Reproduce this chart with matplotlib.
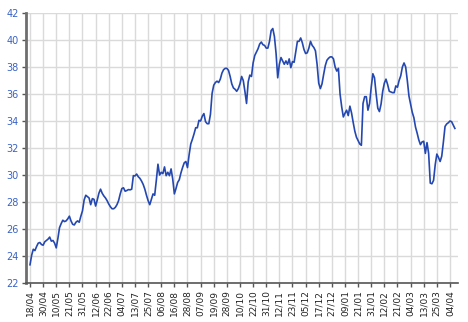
import matplotlib
matplotlib.use("Agg")
import matplotlib.pyplot as plt

# Tick labels (every 8th trading day)
tick_labels = ["18/04", "30/04", "10/05", "21/05", "31/05", "12/06", "22/06", "04/07",
               "13/07", "25/07", "06/08", "16/08", "28/08", "07/09", "19/09", "28/09",
               "10/10", "22/10", "31/10", "12/11", "23/11", "05/12", "17/12", "27/12",
               "09/01", "21/01", "31/01", "12/02", "21/02", "04/03", "13/03", "25/03",
               "04/04"]
tick_step = 8

# Daily values (trading days)
values = [
    23.35, 24.05, 24.5, 24.4, 24.7, 24.95, 25.0, 24.85, 24.8, 25.05,
    25.15, 25.25, 25.4, 25.1, 25.15, 24.95, 24.6, 25.3, 26.1, 26.4,
    26.65, 26.55, 26.6, 26.75, 26.95, 26.6, 26.35, 26.3, 26.5, 26.6,
    26.5, 26.95, 27.35, 28.15, 28.5, 28.4, 28.3, 27.8, 28.25, 28.2,
    27.7, 28.15, 28.65, 28.95, 28.65, 28.45, 28.3, 28.1, 27.85, 27.65,
    27.5, 27.5, 27.6, 27.8, 28.1, 28.6, 29.0, 29.05, 28.8, 28.85,
    28.92, 28.9, 28.95, 29.95, 29.93, 30.07, 29.87, 29.75, 29.55, 29.3,
    28.95, 28.5, 28.1, 27.8, 28.2, 28.6, 28.5, 29.6, 30.8, 30.0,
    30.2, 30.1, 30.6, 29.95, 30.2, 29.95, 30.45, 29.7, 28.6, 29.0,
    29.45, 29.65, 30.15, 30.55, 30.9, 31.0, 30.55, 31.5, 32.3, 32.65,
    33.05, 33.5, 33.5, 34.05, 34.0, 34.35, 34.55, 33.95, 33.8, 33.8,
    34.5, 36.05, 36.65, 36.85, 36.95, 36.85, 37.1, 37.55, 37.8, 37.9,
    37.9, 37.75, 37.3, 36.75, 36.45, 36.35, 36.2, 36.4, 36.75, 37.3,
    37.0, 36.2, 35.3, 36.9, 37.4, 37.3, 38.3, 38.85, 39.1, 39.35,
    39.7, 39.85, 39.65, 39.6, 39.4, 39.4, 39.9, 40.7, 40.85, 40.25,
    39.0, 37.2, 38.2, 38.7, 38.45, 38.2, 38.45, 38.2, 38.6, 37.95,
    38.4, 38.35, 39.1, 39.9, 39.9, 40.15, 39.8, 39.3, 39.0, 39.05,
    39.4, 39.9, 39.6, 39.45, 39.2, 38.2, 36.8, 36.4, 36.75, 37.45,
    38.1, 38.5, 38.65, 38.75, 38.75, 38.6, 38.0, 37.7, 37.9, 36.0,
    35.05, 34.3, 34.57, 34.8, 34.4, 35.1, 34.6, 33.9, 33.25, 32.8,
    32.55, 32.3, 32.2, 35.3, 35.8, 35.8, 34.8, 35.3, 36.5, 37.5,
    37.2, 36.0, 34.95, 34.7, 35.25, 36.2, 36.8, 37.1, 36.7, 36.2,
    36.15, 36.1, 36.1, 36.6, 36.5, 37.0, 37.35, 38.0, 38.3, 38.0,
    37.0, 35.85, 35.25, 34.65, 34.25, 33.55, 33.1, 32.6, 32.25, 32.45,
    32.5, 31.6, 32.4, 31.6, 29.4, 29.35, 29.6, 30.75, 31.55, 31.3,
    31.0, 31.4, 32.45, 33.6, 33.78, 33.87, 34.0, 33.95, 33.7, 33.45,
]
y_ticks = [22, 24, 26, 28, 30, 32, 34, 36, 38, 40, 42]

fig = plt.figure(figsize=(4.68, 3.22), dpi=100)
ax = fig.add_axes([26 / 468, 1 - 283 / 322, (458 - 26) / 468, (283 - 13) / 322])

ax.plot(range(len(values)), values, color="#2448b0", linewidth=1.2, zorder=3)

ax.set_xlim(-2.44, 260.9)
ax.set_ylim(22, 42)
ax.set_xticks([i * tick_step for i in range(len(tick_labels))])
ax.set_xticklabels(tick_labels, rotation=90, fontsize=6.5, color="#222222")
ax.set_yticks(y_ticks)
ax.set_yticklabels([str(v) for v in y_ticks], fontsize=7, color="#3a62c4")

ax.grid(True, color="#dadada", linewidth=1.0, zorder=0)
ax.set_axisbelow(True)
for s in ["top", "right"]:
    ax.spines[s].set_visible(False)
ax.spines["left"].set_color("#6e6e6e")
ax.spines["left"].set_linewidth(2.0)
ax.spines["bottom"].set_color("#555555")
ax.spines["bottom"].set_linewidth(1.2)
ax.tick_params(axis="both", length=3, width=1, color="#555555", pad=2)

fig.savefig("out.png", dpi=100)
